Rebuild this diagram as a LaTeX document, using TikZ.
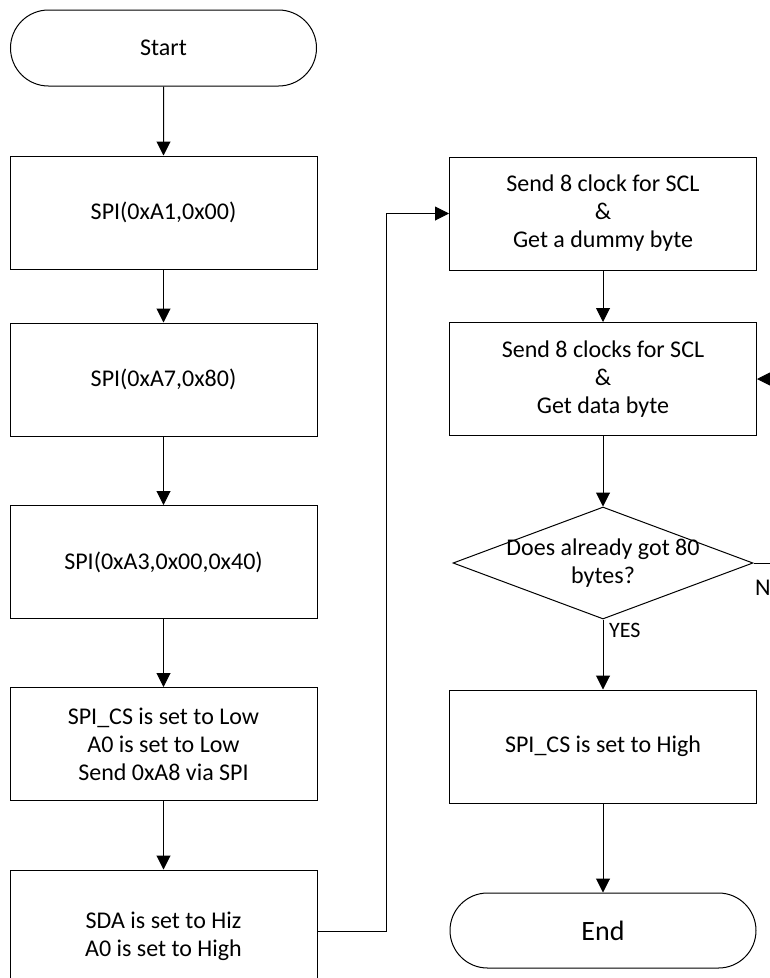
\documentclass[tikz,border=0pt]{standalone}
\usepackage{fontspec}
\setmainfont{Carlito}
\usetikzlibrary{shapes.misc,shapes.geometric,arrows.meta,calc}
\begin{document}
\begin{tikzpicture}[x=1pt,y=-1pt,
  every node/.style={font=\fontsize{24}{28}\selectfont},
  proc/.style={draw, rectangle, minimum width=307pt, minimum height=113pt, inner sep=0pt, align=center, line width=1pt},
  term/.style={draw, rounded rectangle, minimum width=306pt, minimum height=76pt, inner sep=0pt, line width=1pt},
  decision/.style={draw, diamond, minimum width=300pt, minimum height=112pt, inner sep=0pt, line width=1pt},
  flow/.style={-{Triangle[length=14pt,width=14pt]}, line width=1pt},
  ]
\clip (0,0) rectangle (770,978);
% left column
\node[term] (start) at (163.5,48) {Start};
\node[proc] (b1) at (163.5,212.5) {SPI(0xA1,0x00)};
\node[proc] (b2) at (163.5,379.5) {SPI(0xA7,0x80)};
\node[proc] (b3) at (163.5,562) {SPI(0xA3,0x00,0x40)};
\node[proc] (b4) at (163.5,744) {SPI\_CS is set to Low\\A0 is set to Low\\Send 0xA8 via SPI};
\node[proc, minimum height=133pt] (b5) at (163.5,936.5) {SDA is set to Hiz\\A0 is set to High};
% right column
\node[proc] (b6) at (603,213.5) {Send 8 clock for SCL\\\&\\Get a dummy byte};
\node[proc] (b7) at (603,379) {Send 8 clocks for SCL\\\&\\Get data byte};
\node[decision, label={[align=center]center:Does already got 80\\bytes?}] (dec) at (603,563) {};
\node[proc] (b8) at (603,746.5) {SPI\_CS is set to High};
\node[term, minimum height=75pt, font=\fontsize{28}{34}\selectfont] (end) at (603,930.5) {End};
\node[anchor=west, inner sep=0pt, font=\fontsize{22}{26}\selectfont] (yes) at (609,630) {YES};
\node[anchor=west, inner sep=0pt] (no) at (755,588) {NO};
% connectors
\draw[flow] (start) -- (b1);
\draw[flow] (b1) -- (b2);
\draw[flow] (b2) -- (b3);
\draw[flow] (b3) -- (b4);
\draw[flow] (b4) -- (b5);
\coordinate (j1) at (386,931);
\coordinate (j2) at (790,563);
\draw[flow] (b5.east |- j1) -- (j1) |- (b6.west);
\draw[flow] (b6) -- (b7);
\draw[flow] (b7) -- (dec);
\draw[flow] (dec.east) -- (j2) |- (b7.east);
\draw[flow] (dec) -- (b8);
\draw[flow] (b8) -- (end);
\end{tikzpicture}
\end{document}
